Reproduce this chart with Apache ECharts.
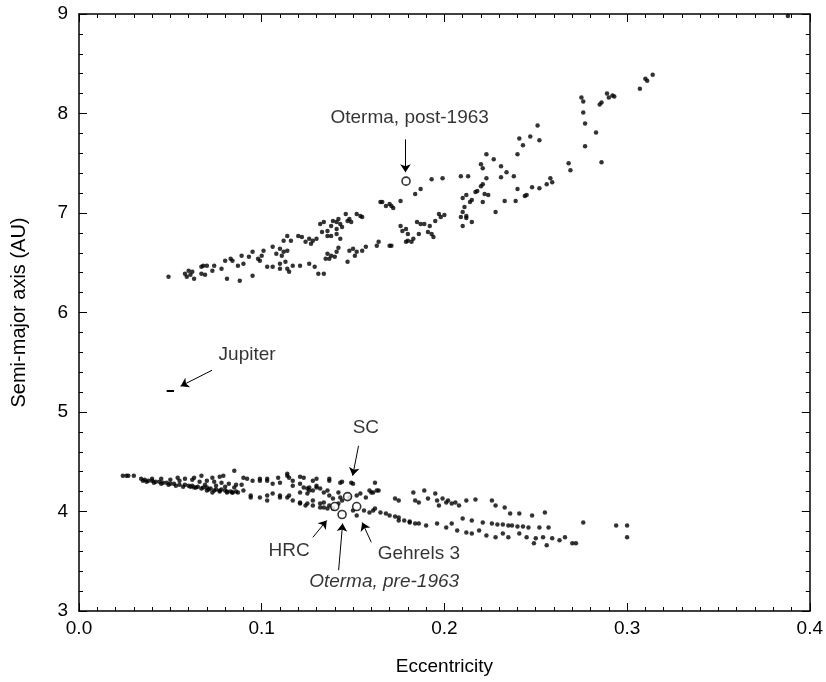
<!DOCTYPE html>
<html>
<head>
<meta charset="utf-8">
<script src="https://cdn.jsdelivr.net/npm/echarts@6/dist/echarts.min.js"></script>
<style>
  html, body { margin: 0; padding: 0; background: #fff; }
  #chart { width: 826px; height: 682px; }
</style>
</head>
<body>
<div id="chart"></div>
<script>
// outer group of orbits (a ~ 6-8.5 AU), [eccentricity, semi-major axis]
const upperBand = [
  [0.049,6.36],
  [0.058,6.39],[0.060,6.42],[0.062,6.41],[0.059,6.36],[0.063,6.34],[0.061,6.38],[0.067,6.46],[0.068,6.47],[0.070,6.47],
  [0.067,6.39],[0.069,6.38],[0.073,6.42],[0.074,6.47],[0.078,6.44],[0.080,6.52],[0.081,6.34],[0.083,6.54],[0.084,6.52],
  [0.087,6.47],[0.088,6.32],[0.089,6.57],[0.090,6.49],[0.093,6.56],[0.095,6.37],[0.095,6.61],
  [0.098,6.54],[0.099,6.52],[0.100,6.57],[0.101,6.62],[0.103,6.46],[0.106,6.46],[0.106,6.66],[0.108,6.59],[0.110,6.64],
  [0.110,6.49],[0.111,6.57],[0.112,6.61],[0.114,6.62],[0.114,6.77],[0.112,6.72],[0.116,6.72],[0.113,6.51],[0.114,6.44],
  [0.115,6.41],[0.117,6.47],[0.121,6.47],[0.110,6.44],
  [0.120,6.77],[0.122,6.76],[0.124,6.71],[0.126,6.74],[0.127,6.69],[0.128,6.72],[0.130,6.74],
  [0.126,6.49],[0.129,6.46],[0.131,6.39],[0.134,6.39],
  [0.132,6.89],[0.134,6.91],[0.133,6.81],[0.136,6.82],[0.138,6.87],[0.139,6.92],[0.141,6.91],[0.141,6.84],[0.142,6.94],
  [0.143,6.89],[0.144,6.86],[0.146,6.99],[0.147,6.92],[0.148,6.94],[0.149,6.91],[0.152,6.99],[0.154,6.97],[0.155,6.96],
  [0.138,6.77],[0.141,6.79],[0.143,6.74],[0.136,6.77],
  [0.136,6.59],[0.138,6.57],[0.137,6.54],[0.140,6.56],[0.141,6.61],[0.142,6.65],[0.135,6.54],
  [0.147,6.51],[0.148,6.62],[0.150,6.64],[0.152,6.61],[0.151,6.57],[0.155,6.62],[0.157,6.66],[0.163,6.67],[0.164,6.71],[0.170,6.67],
  [0.165,7.11],[0.170,7.09],[0.172,7.05],[0.171,7.07],[0.176,7.12],[0.168,7.07],[0.166,7.11],
  [0.184,7.19],[0.187,7.24],[0.193,7.34],[0.199,7.35],
  [0.176,6.87],[0.177,6.82],[0.179,6.84],[0.180,6.79],[0.185,6.91],[0.187,6.89],[0.189,6.89],[0.192,6.87],[0.191,6.81],
  [0.193,6.79],[0.194,6.76],[0.186,6.79],[0.183,6.74],[0.182,6.71],[0.179,6.71],[0.171,6.67],[0.180,6.72],
  [0.195,6.92],[0.198,6.96],[0.200,6.98],[0.197,6.99],
  [0.209,7.37],[0.213,7.37],
  [0.210,7.15],[0.212,7.18],[0.211,7.06],[0.214,7.11],[0.215,7.13],[0.217,7.21],[0.218,7.22],[0.220,7.27],[0.221,7.29],
  [0.223,7.35],[0.222,7.19],[0.224,7.18],[0.221,7.11],[0.209,6.96],[0.210,7.01],[0.212,6.97],[0.212,6.95],[0.210,6.87],
  [0.215,6.91],[0.228,7.01],
  [0.220,7.49],[0.221,7.45],[0.223,7.59],[0.227,7.54],
  [0.231,7.47],[0.234,7.41],[0.238,7.37],[0.231,7.36],[0.240,7.24],[0.233,7.12],[0.239,7.12],[0.244,7.17],[0.245,7.18],
  [0.248,7.26],[0.252,7.25],[0.256,7.29],[0.259,7.31],[0.258,7.35],
  [0.240,7.59],[0.241,7.75],[0.243,7.68],[0.247,7.77],[0.251,7.88],[0.252,7.73],
  [0.268,7.50],[0.269,7.43],
  [0.275,8.16],[0.276,8.12],[0.276,8.01],[0.277,7.90],[0.277,7.67],[0.283,7.81],[0.286,7.51],[0.285,8.09],[0.286,8.11],
  [0.289,8.20],[0.290,8.16],[0.292,8.18],[0.293,8.17],
  [0.307,8.25],[0.310,8.35],[0.311,8.33],[0.314,8.39],
  [0.388,8.98]
];

// inner group of orbits (a ~ 3.7-4.4 AU)
const lowerBand = [
  [0.024,4.36],[0.026,4.36],[0.027,4.36],[0.030,4.36],[0.034,4.33],[0.035,4.31],
  [0.036,4.32],[0.038,4.31],[0.040,4.31],[0.042,4.30],[0.044,4.30],[0.046,4.29],[0.048,4.29],[0.050,4.28],[0.052,4.28],
  [0.055,4.27],[0.058,4.27],[0.060,4.26],[0.062,4.26],[0.065,4.25],[0.068,4.24],[0.070,4.24],[0.072,4.23],[0.075,4.22],
  [0.078,4.22],[0.080,4.21],[0.083,4.20],[0.086,4.20],[0.090,4.21],
  [0.037,4.30],[0.041,4.29],[0.045,4.28],[0.049,4.27],[0.053,4.26],[0.057,4.25],[0.061,4.25],[0.064,4.24],[0.067,4.23],
  [0.071,4.22],[0.074,4.21],[0.077,4.20],[0.081,4.20],[0.084,4.19],
  [0.040,4.33],[0.045,4.33],[0.050,4.32],[0.054,4.34],[0.055,4.31],[0.058,4.33],[0.062,4.32],[0.063,4.34],[0.066,4.30],
  [0.067,4.36],[0.070,4.31],[0.073,4.34],[0.074,4.30],[0.077,4.35],[0.078,4.29],[0.079,4.36],[0.082,4.28],[0.085,4.41],
  [0.086,4.27],[0.090,4.34],[0.092,4.33],[0.095,4.31],[0.099,4.33],[0.099,4.31],[0.103,4.31],[0.103,4.33],[0.106,4.28],
  [0.109,4.34],[0.110,4.29],[0.114,4.36],[0.114,4.38],[0.115,4.34],[0.117,4.26],[0.117,4.31],[0.121,4.28],[0.123,4.34],
  [0.126,4.24],[0.128,4.31],[0.130,4.26],[0.130,4.33],[0.137,4.31],[0.137,4.33],[0.143,4.29],[0.144,4.30],[0.149,4.29],
  [0.150,4.28],[0.162,4.29],[0.121,4.35],
  [0.063,4.24],[0.069,4.27],[0.075,4.26],[0.080,4.25],[0.085,4.24],[0.089,4.27],
  [0.070,4.21],[0.073,4.19],[0.077,4.21],[0.081,4.19],[0.084,4.19],[0.087,4.19],[0.094,4.16],[0.094,4.14],[0.099,4.14],
  [0.103,4.11],[0.103,4.16],[0.106,4.18],[0.110,4.16],[0.110,4.14],[0.114,4.14],[0.115,4.16],[0.117,4.11],[0.121,4.09],
  [0.125,4.08],[0.125,4.18],[0.128,4.06],[0.132,4.04],[0.136,4.03],[0.121,4.19],[0.125,4.23],[0.128,4.21],[0.134,4.19],
  [0.137,4.16],[0.139,4.13],[0.143,4.14],[0.144,4.11],[0.148,4.14],[0.152,4.16],[0.154,4.18],[0.157,4.14],[0.160,4.19],
  [0.163,4.21],[0.130,4.24],
  [0.123,4.24],[0.126,4.21],[0.128,4.11],[0.132,4.08],[0.134,4.04],[0.137,4.06],[0.121,4.08],[0.124,4.06],[0.132,4.23],
  [0.136,4.21],[0.142,4.19],[0.159,4.21],[0.161,4.19],[0.164,4.21],
  [0.134,4.09],[0.139,4.03],[0.142,4.08],[0.150,4.01],[0.152,3.96],[0.156,4.01],[0.159,3.99],[0.161,4.01],[0.162,4.03],
  [0.165,3.99],[0.168,3.98],[0.170,3.96],[0.173,3.95],[0.175,3.94],[0.178,3.91],[0.181,3.90],[0.184,3.88],[0.186,3.88],
  [0.173,4.13],[0.175,4.11],[0.183,4.19],[0.184,4.11],[0.186,4.09],[0.189,4.21],[0.191,4.13],[0.195,4.18],[0.196,4.11],
  [0.197,4.06],[0.199,4.13],[0.201,4.09],[0.202,4.11],[0.204,4.08],[0.206,4.09],[0.208,4.06],[0.212,4.11],[0.217,4.12],
  [0.226,4.11],[0.228,4.06],[0.233,4.04],[0.236,3.98],[0.241,3.98],[0.248,3.96],[0.255,3.99],
  [0.210,3.93],[0.215,3.91],[0.221,3.89],[0.226,3.88],[0.232,3.87],[0.237,3.86],[0.243,3.85],[0.246,3.84],[0.240,3.85],
  [0.235,3.86],[0.229,3.87],[0.252,3.84],[0.257,3.84],[0.276,3.89],[0.294,3.86],[0.300,3.86],[0.300,3.74],
  [0.175,3.91],[0.181,3.89],[0.190,3.86],[0.196,3.88],[0.201,3.84],[0.204,3.88],[0.207,3.81],[0.212,3.79],[0.215,3.78],
  [0.219,3.81],[0.223,3.76],[0.228,3.74],[0.232,3.78],[0.235,3.74],[0.241,3.78],[0.245,3.74],[0.250,3.73],[0.254,3.74],
  [0.259,3.73],[0.263,3.71],[0.266,3.74],[0.270,3.68],[0.272,3.68],[0.249,3.68],[0.256,3.66]
];

// Jupiter's own orbit
const jupiterE = [0.048, 0.050, 0.052];
const jupiterA = [5.21, 5.21, 5.21];

// named comets (open circles)
const cometNames = ['Oterma, post-1963', 'SC', 'HRC', 'Oterma, pre-1963', 'Gehrels 3'];
const cometE = [0.179, 0.147, 0.140, 0.144, 0.152];
const cometA = [7.32, 4.15, 4.05, 3.97, 4.05];

// annotation text and arrows, in data units
const notes = [
  { text: 'Oterma, post-1963', at: [0.181, 7.96] },
  { text: 'Jupiter', at: [0.092, 5.58] },
  { text: 'SC', at: [0.157, 4.845] },
  { text: 'HRC', at: [0.115, 3.61] },
  { text: 'Gehrels 3', at: [0.186, 3.58] },
  { text: 'Oterma, pre-1963', at: [0.167, 3.29], italic: true }
];
const arrows = [
  [[0.1787, 7.74], [0.1787, 7.41]],
  [[0.0729, 5.42], [0.0556, 5.26]],
  [[0.153, 4.66], [0.1498, 4.36]],
  [[0.128, 3.74], [0.1356, 3.91]],
  [[0.1421, 3.41], [0.1443, 3.88]],
  [[0.160, 3.69], [0.155, 3.89]]
];

const FONT = '"Liberation Sans", Arial, Helvetica, sans-serif';

function frameAxis(extra) {
  return Object.assign({
    type: 'value',
    axisLine: { show: true, onZero: false, lineStyle: { color: '#000', width: 1.5 } },
    axisTick: { show: true, inside: true, length: 8, lineStyle: { color: '#000', width: 1 } },
    splitLine: { show: false },
    axisLabel: { show: false }
  }, extra);
}

const chart = echarts.init(document.getElementById('chart'));
chart.setOption({
  backgroundColor: '#fff',
  animation: false,
  textStyle: { fontFamily: FONT, color: '#000' },
  grid: { left: 79, right: 16, top: 14, bottom: 71 },
  xAxis: [
    frameAxis({
      min: 0, max: 0.4, interval: 0.1,
      minorTick: { show: true, splitNumber: 10, length: 4, lineStyle: { color: '#000', width: 1 } },
      axisLabel: { show: true, margin: 8, fontSize: 19, color: '#000', fontFamily: FONT,
        formatter: v => v.toFixed(1) },
      name: 'Eccentricity', nameLocation: 'middle', nameGap: 46,
      nameTextStyle: { fontSize: 19, color: '#000', fontFamily: FONT }
    }),
    frameAxis({
      position: 'top', min: 0, max: 0.4, interval: 0.1,
      minorTick: { show: true, splitNumber: 10, length: 4, lineStyle: { color: '#000', width: 1 } }
    })
  ],
  yAxis: [
    frameAxis({
      min: 3, max: 9, interval: 1,
      minorTick: { show: true, splitNumber: 5, length: 4, lineStyle: { color: '#000', width: 1 } },
      axisLabel: { show: true, margin: 11, fontSize: 19, color: '#000', fontFamily: FONT },
      name: 'Semi-major axis (AU)', nameLocation: 'middle', nameRotate: 90, nameGap: 50,
      nameTextStyle: { fontSize: 20, color: '#000', fontFamily: FONT }
    }),
    frameAxis({
      position: 'right', min: 3, max: 9, interval: 1,
      minorTick: { show: true, splitNumber: 5, length: 4, lineStyle: { color: '#000', width: 1 } }
    })
  ],
  series: [
    {
      name: 'outer', type: 'scatter', data: upperBand,
      symbol: 'circle', symbolSize: 4.5, itemStyle: { color: '#000' }, silent: true
    },
    {
      name: 'inner', type: 'scatter', data: lowerBand,
      symbol: 'circle', symbolSize: 4.5, itemStyle: { color: '#000' }, silent: true
    },
    {
      name: 'Jupiter', type: 'line', showSymbol: false,
      data: jupiterE.map((e, i) => [e, jupiterA[i]]),
      lineStyle: { color: '#000', width: 2 }
    },
    {
      name: 'comets', type: 'scatter', z: 5,
      data: cometE.map((e, i) => ({ name: cometNames[i], value: [e, cometA[i]] })),
      symbol: 'circle', symbolSize: 8,
      itemStyle: { color: '#fff', borderColor: '#000', borderWidth: 1.6 }
    },
    {
      name: 'arrows', type: 'lines', coordinateSystem: 'cartesian2d', z: 4,
      data: arrows.map(a => ({ coords: a })),
      symbol: ['none', 'arrow'], symbolSize: [0, 8],
      lineStyle: { color: '#000', width: 1, opacity: 1 }
    },
    {
      name: 'notes', type: 'scatter', z: 6, silent: true,
      symbol: 'circle', symbolSize: 1,
      itemStyle: { color: 'rgba(0,0,0,0)' },
      data: notes.map(n => ({
        value: n.at,
        label: {
          show: true, position: 'inside', formatter: n.text,
          fontSize: 19, color: '#000', fontFamily: FONT,
          fontStyle: n.italic ? 'italic' : 'normal'
        }
      }))
    }
  ]
});
</script>
</body>
</html>
